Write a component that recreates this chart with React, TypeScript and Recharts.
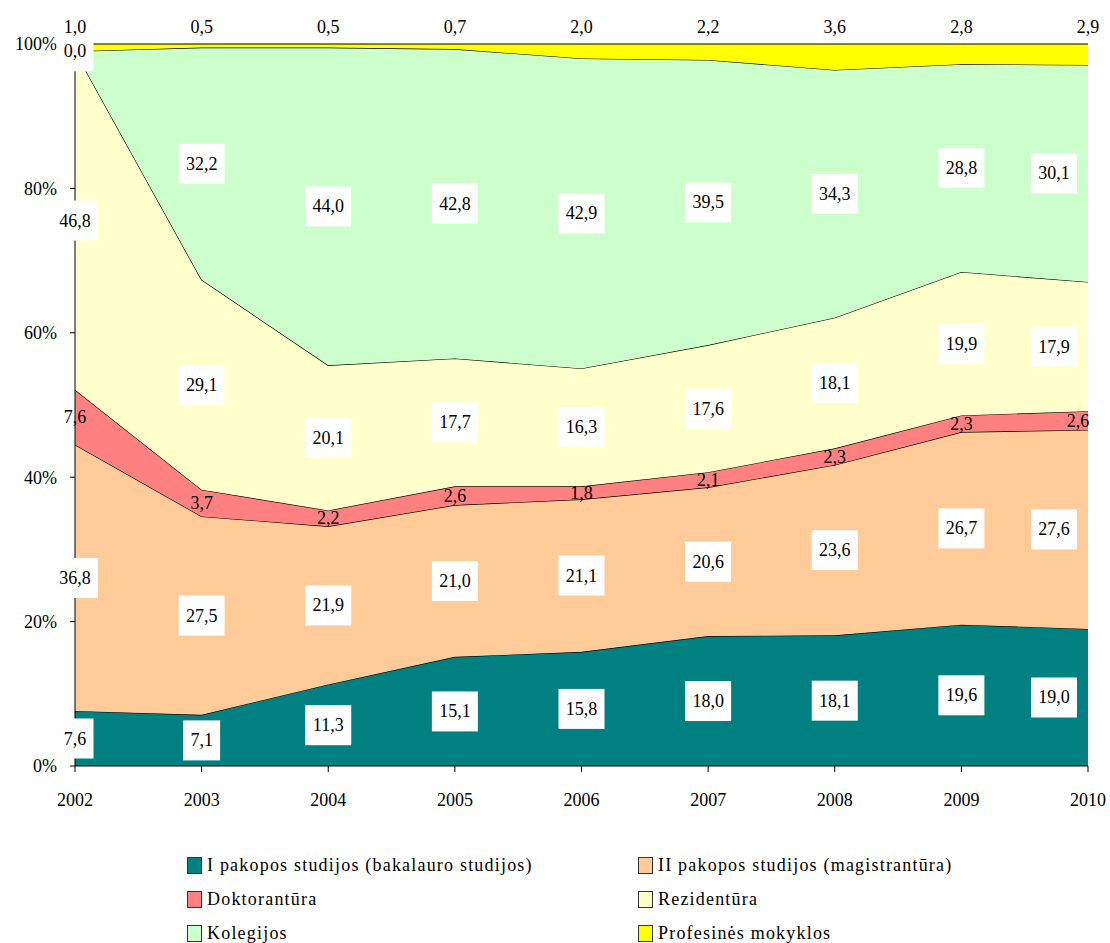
import React from "react";
import { AreaChart, Area, XAxis, YAxis } from "recharts";

const years = ["2002", "2003", "2004", "2005", "2006", "2007", "2008", "2009", "2010"];
const bakalauras = [7.6, 7.1, 11.3, 15.1, 15.8, 18.0, 18.1, 19.6, 19.0];
const magistrantura = [36.8, 27.5, 21.9, 21.0, 21.1, 20.6, 23.6, 26.7, 27.6];
const doktorantura = [7.6, 3.7, 2.2, 2.6, 1.8, 2.1, 2.3, 2.3, 2.6];
const rezidentura = [46.8, 29.1, 20.1, 17.7, 16.3, 17.6, 18.1, 19.9, 17.9];
const kolegijos = [0.0, 32.2, 44.0, 42.8, 42.9, 39.5, 34.3, 28.8, 30.1];
const profesines = [1.0, 0.5, 0.5, 0.7, 2.0, 2.2, 3.6, 2.8, 2.9];

const series = [
  { key: "bak", name: "I pakopos studijos (bakalauro studijos)", values: bakalauras, color: "#008080", boxed: true },
  { key: "mag", name: "II pakopos studijos (magistrantūra)", values: magistrantura, color: "#FFCC99", boxed: true },
  { key: "dok", name: "Doktorantūra", values: doktorantura, color: "#FF8080", boxed: false },
  { key: "rez", name: "Rezidentūra", values: rezidentura, color: "#FFFFCC", boxed: true },
  { key: "kol", name: "Kolegijos", values: kolegijos, color: "#CCFFCC", boxed: true },
  { key: "prof", name: "Profesinės mokyklos", values: profesines, color: "#FFFF00", boxed: false },
];

const data = years.map((year, i) => {
  const row: Record<string, number | string> = { year };
  series.forEach((s) => (row[s.key] = s.values[i]));
  return row;
});

const totals = years.map((_, i) => series.reduce((sum, s) => sum + s.values[i], 0));

const FONT = "Liberation Serif, DejaVu Serif, Times New Roman, serif";
const W = 1110;
const H = 820;
const MARGIN = { top: 44, right: 22, bottom: 14, left: 0 };
const X_AXIS_H = 40;
const PLOT_H = H - MARGIN.top - MARGIN.bottom - X_AXIS_H;

const fmt = (v: number) => v.toFixed(1).replace(".", ",");

function makeLabel(values: number[], boxed: boolean, top: boolean) {
  return (props: any) => {
    const { x, y, index } = props;
    if (x == null || y == null) return null;
    const text = fmt(values[index]);
    const last = index === values.length - 1;
    let cx = x;
    let cy = y + (values[index] / totals[index]) * PLOT_H / 2;
    if (top) cy = 27;
    if (last && !top) cx = x - (boxed ? 34 : 10);
    const w = text.length * 9 + 10;
    return (
      <g key={`lbl-${index}`}>
        {boxed && <rect x={cx - w / 2} y={cy - 20} width={w} height={40} fill="#fff" />}
        <text x={cx} y={cy} textAnchor="middle" dominantBaseline="central" fontFamily={FONT} fontSize={18} fill="#000">
          {text}
        </text>
      </g>
    );
  };
}

function Legend() {
  const items = [
    [series[0], series[1]],
    [series[2], series[3]],
    [series[4], series[5]],
  ];
  return (
    <div style={{ position: "absolute", left: 187, top: 848, fontFamily: FONT, fontSize: 18, letterSpacing: 1.2 }}>
      {items.map((row, r) => (
        <div key={r} style={{ display: "flex", height: 34, alignItems: "center" }}>
          {row.map((s) => (
            <div key={s.key} style={{ width: 451, display: "flex", alignItems: "center" }}>
              <span
                style={{
                  display: "inline-block",
                  width: 13,
                  height: 15,
                  background: s.color,
                  border: "1px solid #333",
                  marginRight: 5,
                }}
              />
              <span>{s.name}</span>
            </div>
          ))}
        </div>
      ))}
    </div>
  );
}

export default function App() {
  return (
    <div style={{ position: "relative", width: W, height: 943 }}>
      <style>{`body { margin: 0; }`}</style>
      <AreaChart width={W} height={H} data={data} margin={MARGIN} stackOffset="expand">
        <XAxis
          dataKey="year"
          height={X_AXIS_H}
          tick={{ fill: "#000", fontSize: 18, fontFamily: FONT }}
          tickSize={6}
          tickMargin={21}
          axisLine={{ stroke: "#000" }}
          tickLine={{ stroke: "#000" }}
          interval={0}
        />
        <YAxis
          width={75}
          domain={[0, 1]}
          ticks={[0, 0.2, 0.4, 0.6, 0.8, 1]}
          tickFormatter={(v) => `${Math.round(v * 100)}%`}
          tick={{ fill: "#000", fontSize: 18, fontFamily: FONT }}
          tickSize={5}
          tickMargin={13}
          axisLine={{ stroke: "#000" }}
          tickLine={{ stroke: "#000" }}
        />
        {series.map((s) => (
          <Area
            key={s.key}
            type="linear"
            dataKey={s.key}
            name={s.name}
            stackId="1"
            fill={s.color}
            fillOpacity={1}
            stroke="#000"
            strokeWidth={1.2}
            dot={false}
            activeDot={false}
            isAnimationActive={false}
            label={makeLabel(s.values, s.boxed, s.key === "prof")}
          />
        ))}
      </AreaChart>
      <Legend />
    </div>
  );
}
